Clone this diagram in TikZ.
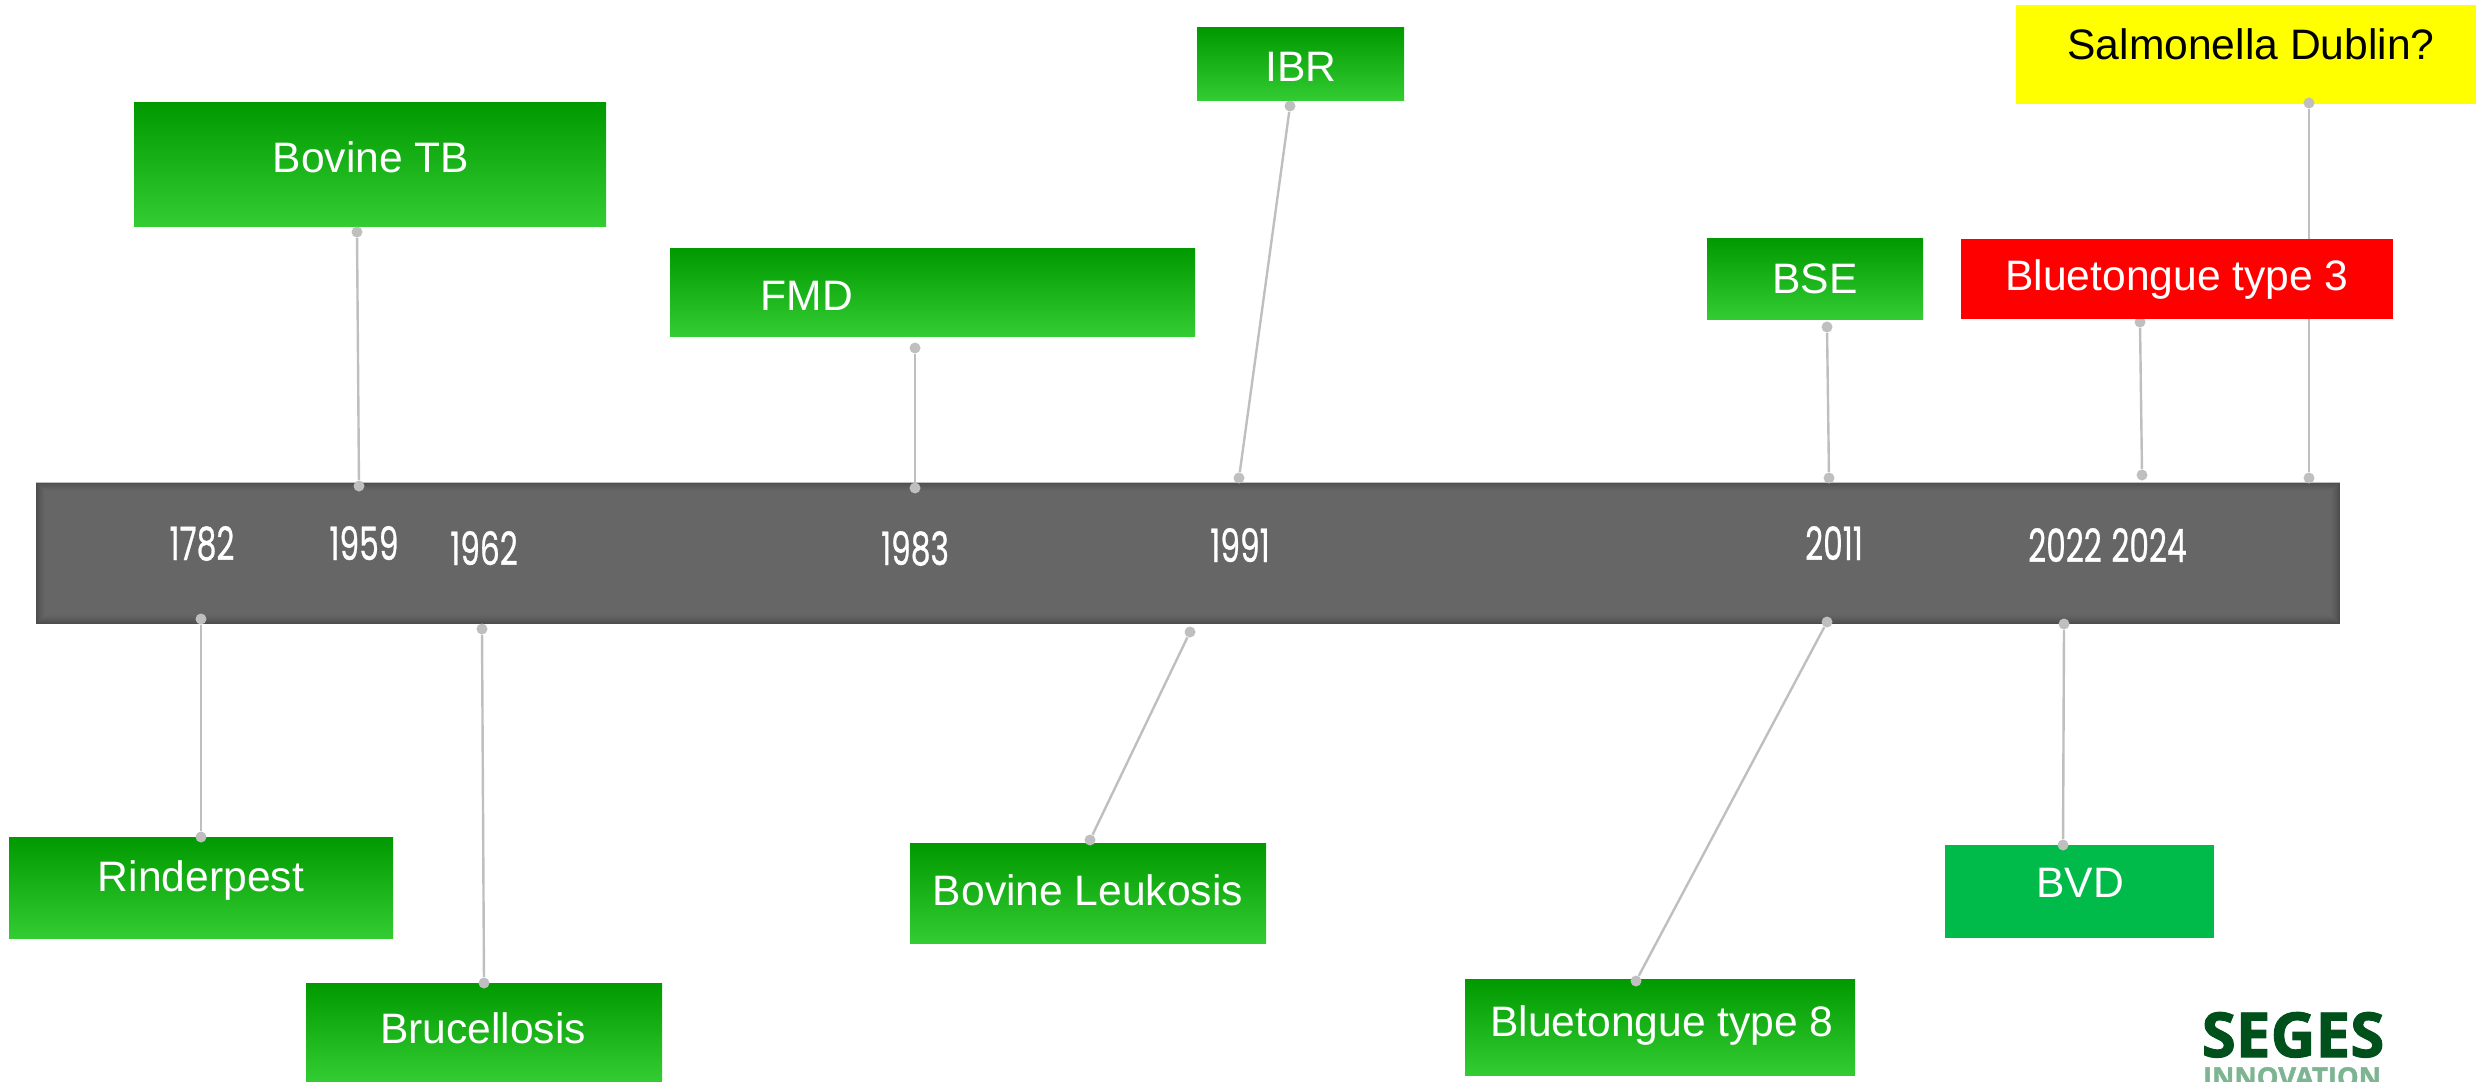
\documentclass[tikz,border=0pt]{standalone}
\usepackage{fontspec}
\setmainfont{Liberation Sans}
\newfontfamily\yearfont[FakeBold=.8]{Poppins}
\newfontfamily\logofont[BoldFeatures={FakeBold=1.6}]{Open Sans}
\usetikzlibrary{fit}
\definecolor{boxtop}{RGB}{0,153,0}
\definecolor{boxbottom}{RGB}{51,204,51}
\definecolor{bvdgreen}{RGB}{0,186,74}
\definecolor{barfill}{RGB}{102,102,102}
\definecolor{barrim}{RGB}{76,76,76}
\definecolor{linkgray}{RGB}{191,191,191}
\definecolor{logodark}{RGB}{0,80,27}
\definecolor{logolight}{RGB}{125,180,145}
\definecolor{dublinyellow}{RGB}{255,255,0}
\definecolor{bluered}{RGB}{255,0,0}
\tikzset{
  flatbox/.style={inner sep=0pt,outer sep=0pt},
  greenbox/.style={flatbox,top color=boxtop,bottom color=boxbottom},
  boxtext/.style={text=white,anchor=base,inner sep=0pt,font=\fontsize{21.3}{25}\selectfont},
  yeartext/.style={text=white,anchor=base,inner sep=0pt,font=\yearfont\fontsize{23}{25}\selectfont},
  dot/.style={circle,fill=linkgray,inner sep=0pt,minimum size=5.5pt},
  link/.style={linkgray,line width=1.2pt},
}
\newcommand{\narrowyear}[1]{\scalebox{.68}[1]{#1}}
\begin{document}
\begin{tikzpicture}[x=.5pt,y=-.5pt]
\useasboundingbox (0,0) rectangle (2476,1081);
\clip (0,0) rectangle (2476,1081);
% Timeline bar
\node[flatbox,fill=barrim,fit={(36,482) (2340,624)}] (bar) {};
\foreach \i/\p in {1/15,2/30,3/42,4/54,5/65,6/75,7/84,8/92,9/100}
  \fill[barfill!\p!barrim] ([shift={(\i,\i)}]bar.north west) rectangle ([shift={(-\i,-\i)}]bar.south east);
\draw[linkgray,line width=.5pt] (bar.north west) -- (bar.north east);
% Years
\node[yeartext] (y1782) at (202,560) {\narrowyear{1782}};
\node[yeartext] (y1959) at (364,560) {\narrowyear{1959}};
\node[yeartext] (y1962) at (484,565) {\narrowyear{1962}};
\node[yeartext] (y1983) at (915,565) {\narrowyear{1983}};
\node[yeartext] (y1991) at (1240,562) {\narrowyear{1991}};
\node[yeartext] (y2011) at (1834,560) {\narrowyear{2011}};
\node[yeartext] (y2022) at (2065,562) {\narrowyear{2022}};
\node[yeartext] (y2024) at (2149,562) {\narrowyear{2024}};
% Boxes above the bar
\node[greenbox,fit={(134,103) (606,226)}] (tb) {};
\node[greenbox,fit={(1197,28) (1404,101)}] (ibr) {};
\node[greenbox,fit={(670,248) (1195,336)}] (fmd) {};
\node[greenbox,fit={(1707,238) (1923,319)}] (bse) {};
\node[flatbox,fill=dublinyellow,fit={(2016,5) (2476,104)}] (dublin) {};
% Boxes below the bar
\node[greenbox,fit={(9,837) (393,938)}] (rinder) {};
\node[greenbox,fit={(306,983) (662,1081)}] (bruc) {};
\node[greenbox,fit={(910,843) (1266,943)}] (leuk) {};
\node[greenbox,fit={(1465,979) (1855,1075)}] (bt8) {};
\node[flatbox,fill=bvdgreen,fit={(1945,845) (2214,938)}] (bvd) {};
% Dots
\node[dot] (tbtop) at (357,232) {};
\node[dot] (tbbar) at (359,486) {};
\node[dot] (fmdtop) at (915,348) {};
\node[dot] (fmdbar) at (915,488) {};
\node[dot] (ibrtop) at (1290,106) {};
\node[dot] (ibrbar) at (1239,478) {};
\node[dot] (bsetop) at (1827,327) {};
\node[dot] (bsebar) at (1829,478) {};
\node[dot] (bt3top) at (2140,322) {};
\node[dot] (bt3bar) at (2142,475) {};
\node[dot] (dubtop) at (2309,103) {};
\node[dot] (dubbar) at (2309,478) {};
\node[dot] (rinbar) at (201,619) {};
\node[dot] (rinbox) at (201,837) {};
\node[dot] (brubar) at (482,629) {};
\node[dot] (brubox) at (484,983) {};
\node[dot] (leubar) at (1190,632) {};
\node[dot] (leubox) at (1090,840) {};
\node[dot] (bt8bar) at (1827,622) {};
\node[dot] (bt8box) at (1636,981) {};
\node[dot] (bvdbar) at (2064,624) {};
\node[dot] (bvdbox) at (2063,845) {};
% Connectors
\draw[link] (tbtop) -- (tbbar);
\draw[link] (fmdtop) -- (fmdbar);
\draw[link] (ibrtop) -- (ibrbar);
\draw[link] (bsetop) -- (bsebar);
\draw[link] (bt3top) -- (bt3bar);
\draw[link] (dubtop) -- (dubbar);
\draw[link] (rinbar) -- (rinbox);
\draw[link] (brubar) -- (brubox);
\draw[link] (leubar) -- (leubox);
\draw[link] (bt8bar) -- (bt8box);
\draw[link] (bvdbar) -- (bvdbox);
% Red box goes over the long connector
\node[flatbox,fill=bluered,fit={(1961,239) (2393,319)}] (bt3) {};
% Box labels
\node[boxtext] (tbtext) at (371,172) {Bovine TB};
\node[boxtext] (ibrtext) at (1301,82) {IBR};
\node[boxtext] (fmdtext) at (807,310) {FMD};
\node[boxtext] (bsetext) at (1815,293) {BSE};
\node[boxtext] (bt3text) at (2177,290) {Bluetongue type 3};
\node[boxtext,text=black] (dubtext) at (2251,60) {Salmonella Dublin?};
\node[boxtext] (rintext) at (201,891) {Rinderpest};
\node[boxtext] (brutext) at (483,1043) {Brucellosis};
\node[boxtext] (leutext) at (1088,905) {Bovine Leukosis};
\node[boxtext] (bt8text) at (1662,1036) {Bluetongue type 8};
\node[boxtext] (bvdtext) at (2080,897) {BVD};
% Logo
\node[anchor=base,inner sep=0pt,text=logodark,font=\logofont\bfseries\fontsize{31}{32}\selectfont] (seges) at (2293,1057) {SEGES};
\node[anchor=base,inner sep=0pt,text=logolight,font=\logofont\bfseries\fontsize{13.7}{15}\selectfont] (innov) at (2292,1087) {INNOVATION};
\end{tikzpicture}
\end{document}
